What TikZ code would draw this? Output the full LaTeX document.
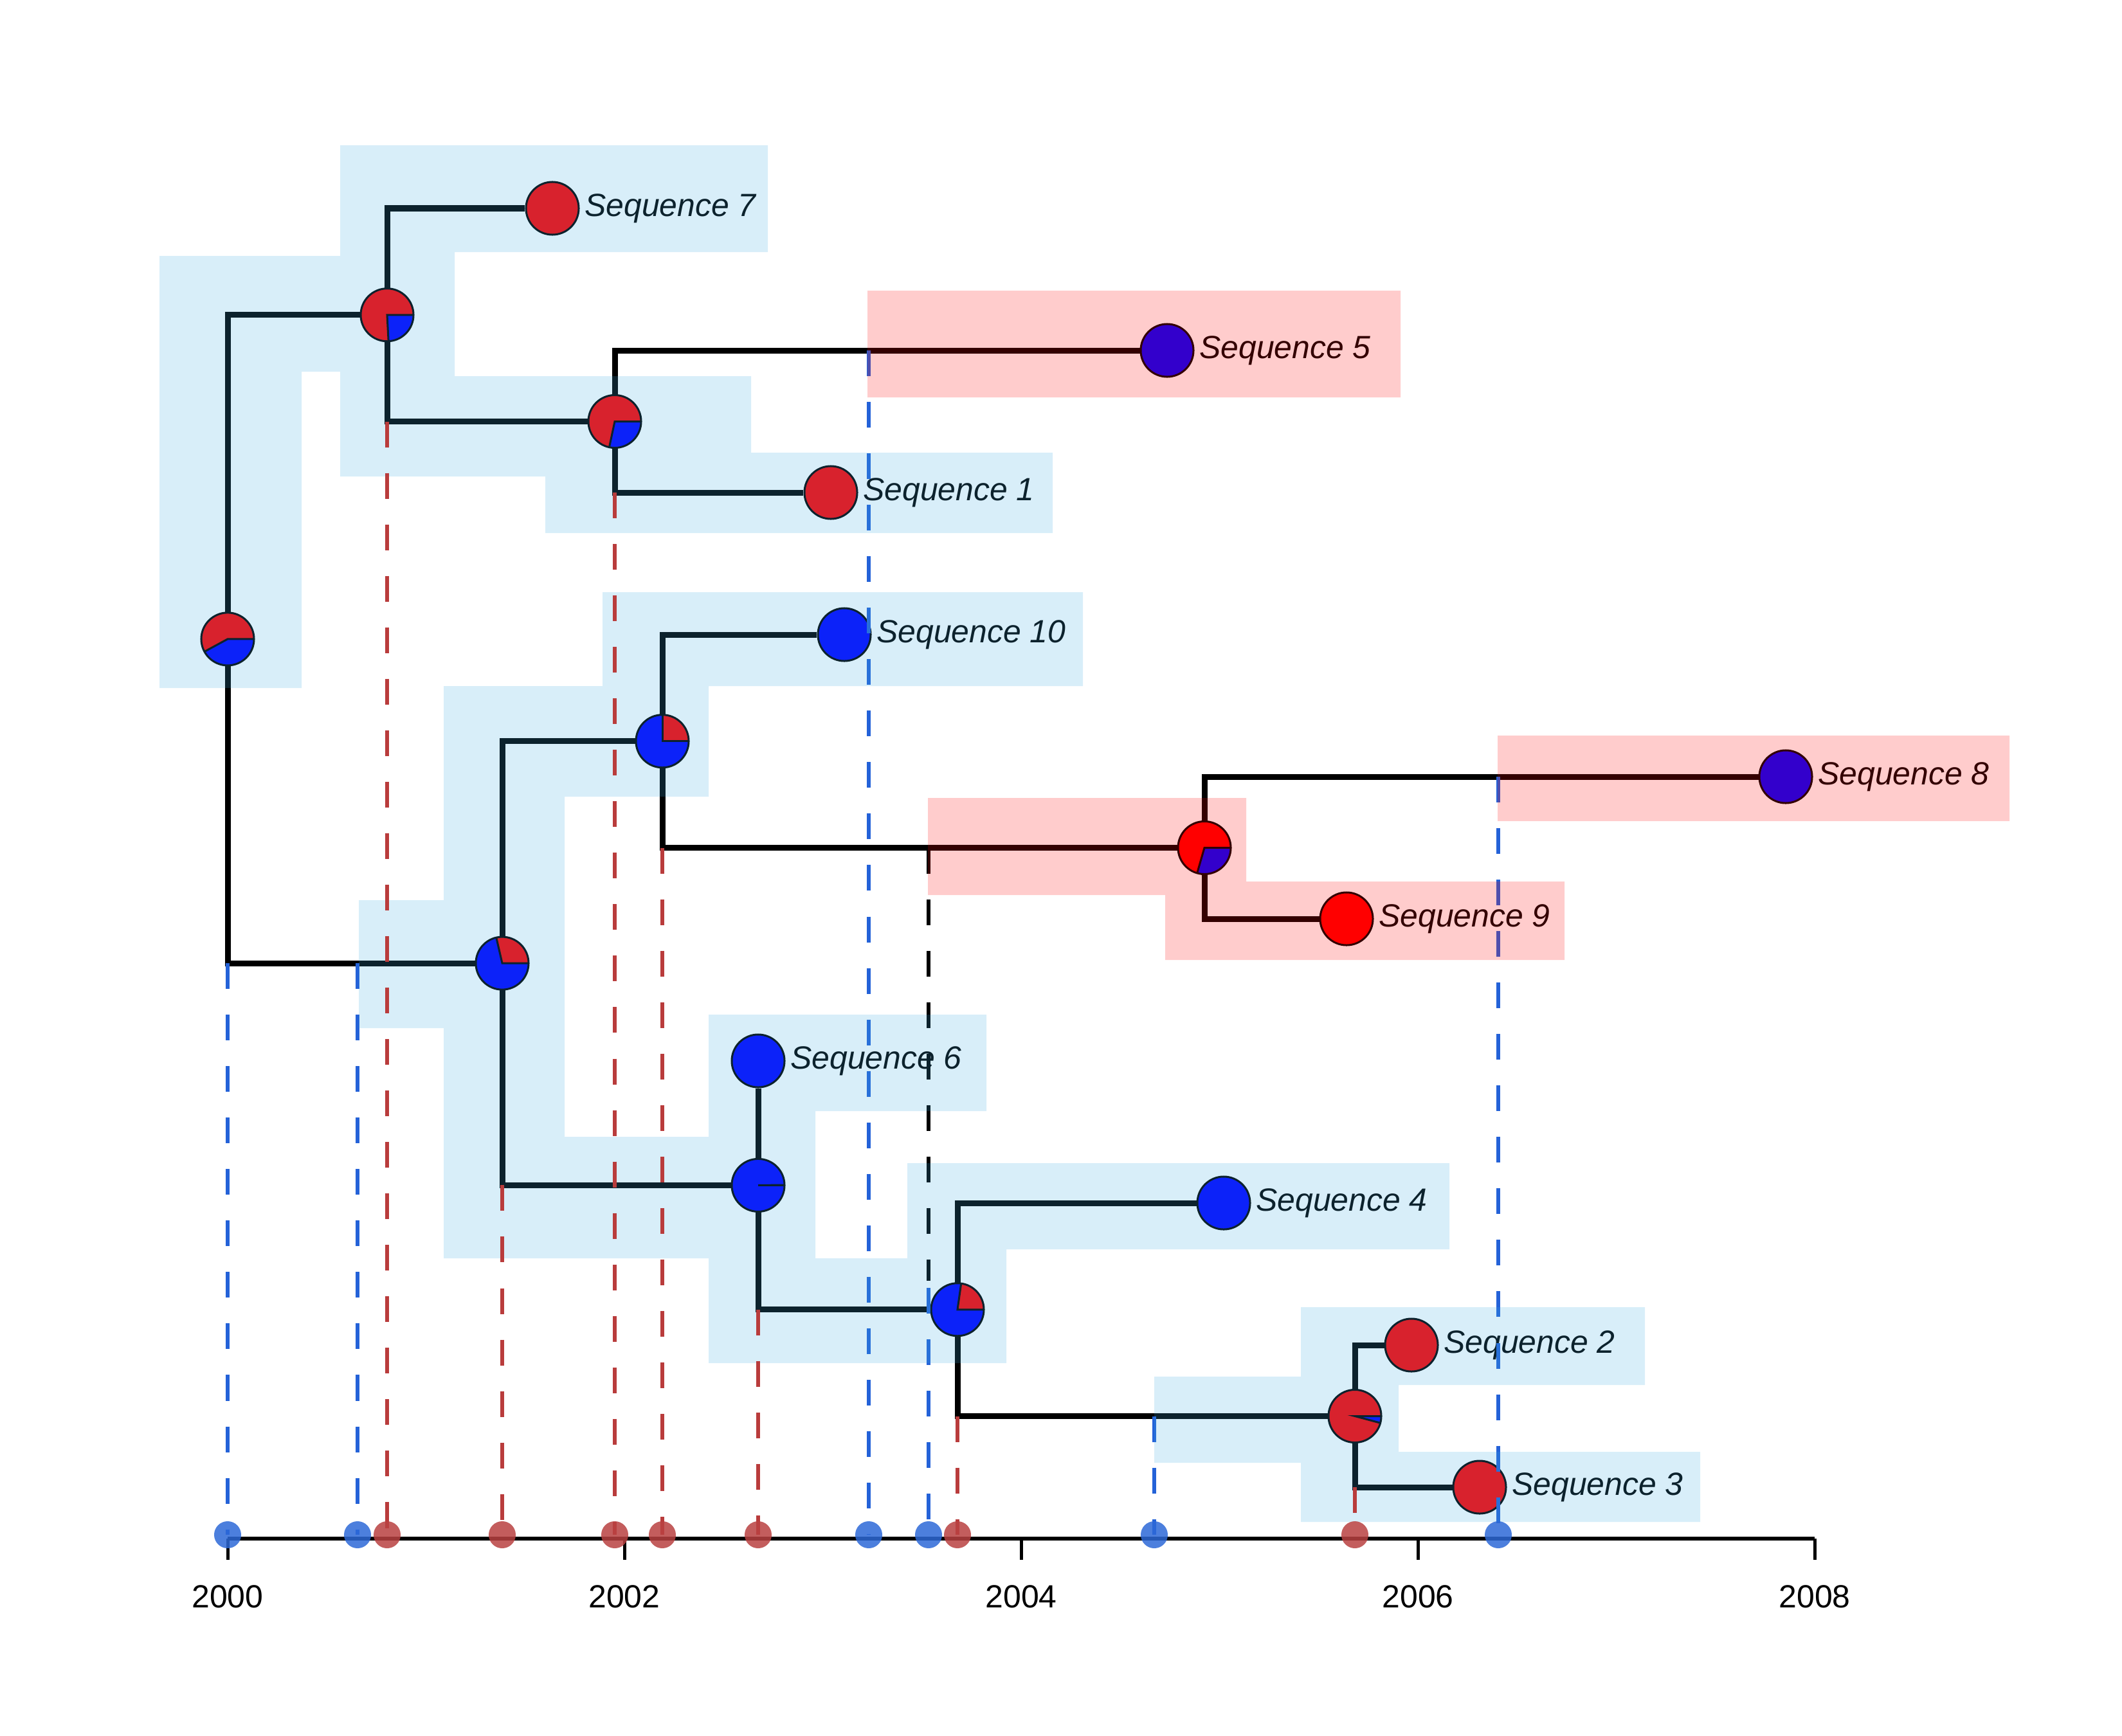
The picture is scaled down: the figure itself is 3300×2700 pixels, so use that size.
\documentclass[tikz,border=0pt]{standalone}
\usepackage{fontspec}
\setmainfont{Liberation Sans}
\usetikzlibrary{positioning}

\definecolor{cRed}{RGB}{255,0,0}
\definecolor{cBlue}{RGB}{0,0,255}
\definecolor{cShade}{RGB}{60,170,225}
\definecolor{cDashRed}{RGB}{185,60,60}
\definecolor{cDashBlue}{RGB}{36,98,216}
\definecolor{cDotRed}{RGB}{185,65,65}
\definecolor{cDotBlue}{RGB}{45,105,215}

\tikzstyle{tip} = [circle, minimum size=0.82cm, inner sep=0pt, draw=black, line width=0.03cm]
\tikzstyle{pienode} = [circle, minimum size=0.82cm, inner sep=0pt, fill=cBlue]
\tikzstyle{pieline} = [draw=black, line width=0.03cm]
\tikzstyle{branch} = [draw=black, line width=0.09cm]
\tikzstyle{seqlabel} = [font=\fontsize{14.2}{17}\selectfont\itshape, inner sep=0pt]
\tikzstyle{yearlabel} = [font=\fontsize{14.2}{17}\selectfont, inner sep=0pt]
\tikzstyle{reddash} = [draw=cDashRed, line width=0.065cm, dash pattern=on 0.4cm off 0.4cm]
\tikzstyle{bluedash} = [draw=cDashBlue, line width=0.065cm, dash pattern=on 0.4cm off 0.4cm]
\tikzstyle{blackdash} = [draw=black, line width=0.065cm, dash pattern=on 0.4cm off 0.4cm]
\tikzstyle{reddot} = [circle, minimum size=0.42cm, inner sep=0pt, fill=cDotRed, fill opacity=0.85]
\tikzstyle{bluedot} = [circle, minimum size=0.42cm, inner sep=0pt, fill=cDotBlue, fill opacity=0.85]
\tikzstyle{blueshade} = [fill=cShade, fill opacity=0.2]
\tikzstyle{redshade} = [fill=cRed, fill opacity=0.2]
\tikzstyle{axisline} = [draw=black, line width=0.055cm]
\tikzstyle{axistick} = [draw=black, line width=0.05cm]

\newcommand{\statepie}[4]{%
        \node (#1) [pienode] at (#2,#3) {};
        \fill [cRed] (#1.center) -- ([shift={(0:0.41cm)}]#1.center) arc [start angle=0, end angle=#4, radius=0.41cm] -- cycle;
        \draw [pieline] ([shift={(0:0.41cm)}]#1.center) -- (#1.center) -- ([shift={(#4:0.41cm)}]#1.center);
        \draw [pieline] (#1.center) circle [radius=0.41cm];
}

\begin{document}
\begin{tikzpicture}[x=0.01cm, y=-0.01cm]
        \useasboundingbox (0,0) rectangle (3300,2700);

        \statepie{root}{354}{993.9}{208.5}
        \statepie{A}{602}{489.75}{273}
        \statepie{B}{956}{655.5}{258}
        \statepie{C}{781}{1498.1}{103}
        \statepie{D}{1030}{1152.75}{90}
        \statepie{E}{1873}{1318.5}{254}
        \statepie{F}{1179}{1843.4}{0.5}
        \statepie{G}{1489}{2036.75}{82}
        \statepie{H}{2107}{2202.5}{345}

        \node (seq7) [tip, fill=cRed] at (859,324) {};
        \node (seq5) [tip, fill=cBlue] at (1815,545) {};
        \node (seq1) [tip, fill=cRed] at (1292,766) {};
        \node (seq10) [tip, fill=cBlue] at (1313,987) {};
        \node (seq8) [tip, fill=cBlue] at (2777,1208) {};
        \node (seq9) [tip, fill=cRed] at (2094,1429) {};
        \node (seq6) [tip, fill=cBlue] at (1179,1650) {};
        \node (seq4) [tip, fill=cBlue] at (1903,1871) {};
        \node (seq2) [tip, fill=cRed] at (2195,2092) {};
        \node (seq3) [tip, fill=cRed] at (2301,2313) {};

        \node (lab7) [seqlabel, right=0.07cm of seq7] {Sequence 7};
        \node (lab5) [seqlabel, right=0.07cm of seq5] {Sequence 5};
        \node (lab1) [seqlabel, right=0.07cm of seq1] {Sequence 1};
        \node (lab10) [seqlabel, right=0.07cm of seq10] {Sequence 10};
        \node (lab8) [seqlabel, right=0.07cm of seq8] {Sequence 8};
        \node (lab9) [seqlabel, right=0.07cm of seq9] {Sequence 9};
        \node (lab6) [seqlabel, right=0.07cm of seq6] {Sequence 6};
        \node (lab4) [seqlabel, right=0.07cm of seq4] {Sequence 4};
        \node (lab2) [seqlabel, right=0.07cm of seq2] {Sequence 2};
        \node (lab3) [seqlabel, right=0.07cm of seq3] {Sequence 3};

        \draw [branch] (root) |- (A);
        \draw [branch] (root) |- (C);
        \draw [branch] (A) |- (seq7);
        \draw [branch] (A) |- (B);
        \draw [branch] (B) |- (seq5);
        \draw [branch] (B) |- (seq1);
        \draw [branch] (C) |- (D);
        \draw [branch] (C) |- (F);
        \draw [branch] (D) |- (seq10);
        \draw [branch] (D) |- (E);
        \draw [branch] (E) |- (seq8);
        \draw [branch] (E) |- (seq9);
        \draw [branch] (F) -- (seq6);
        \draw [branch] (F) |- (G);
        \draw [branch] (G) |- (seq4);
        \draw [branch] (G) |- (H);
        \draw [branch] (H) |- (seq2);
        \draw [branch] (H) |- (seq3);

        \coordinate (evrc) at (556,1498.1);
        \coordinate (evbs) at (1351,545);
        \coordinate (evde) at (1444,1318.5);
        \coordinate (evdemid) at (1444,1992);
        \coordinate (evdelow) at (1444,2003);
        \coordinate (evgh) at (1795,2202.5);
        \coordinate (eves) at (2330,1208);

        \coordinate (a0) at (354,2387);
        \coordinate (a1) at (556,2387);
        \coordinate (a2) at (602,2387);
        \coordinate (a3) at (781,2387);
        \coordinate (a4) at (956,2387);
        \coordinate (a5) at (1030,2387);
        \coordinate (a6) at (1179,2387);
        \coordinate (a7) at (1351,2387);
        \coordinate (a8) at (1444,2387);
        \coordinate (a9) at (1489,2387);
        \coordinate (a10) at (1795,2387);
        \coordinate (a11) at (2107,2387);
        \coordinate (a12) at (2330,2387);

        \draw [bluedash] (root |- C) -- (a0);
        \draw [bluedash] (evrc) -- (a1);
        \draw [bluedash] (evbs) -- (a7);
        \draw [blackdash] (evde) -- (evdemid);
        \draw [bluedash] (evdelow) -- (a8);
        \draw [bluedash] (evgh) -- (a10);
        \draw [bluedash] (eves) -- (a12);

        \fill [blueshade] (529,226) rectangle (1194,392) (529,226) rectangle (707,741)
                (248,398) rectangle (707,578) (248,398) rectangle (469,1070)
                (529,585) rectangle (1168,741) (848,585) rectangle (1168,829)
                (848,704) rectangle (1637,829) (937,921) rectangle (1684,1067)
                (937,921) rectangle (1102,1239) (690,1067) rectangle (1102,1239)
                (690,1067) rectangle (878,1957) (558,1400) rectangle (878,1599)
                (690,1768) rectangle (1102,1957) (1102,1578) rectangle (1534,1728)
                (1102,1578) rectangle (1268,2120) (1102,1957) rectangle (1565,2120)
                (1411,1809) rectangle (1565,2120) (1411,1809) rectangle (2254,1943)
                (1795,2141) rectangle (2175,2275) (2023,2033) rectangle (2175,2367)
                (2023,2033) rectangle (2558,2154) (2023,2258) rectangle (2644,2367);
        \fill [redshade] (1349,452) rectangle (2178,618)
                (1443,1241) rectangle (1938,1392) (1812,1241) rectangle (1938,1493)
                (1812,1371) rectangle (2433,1493) (2329,1144) rectangle (3125,1277);

        \draw [reddash] (A |- B) -- (a2);
        \draw [reddash] (C |- F) -- (a3);
        \draw [reddash] (B |- seq1) -- (a4);
        \draw [reddash] (D |- E) -- (a5);
        \draw [reddash] (F |- G) -- (a6);
        \draw [reddash] (G |- H) -- (a9);
        \draw [reddash] (H |- seq3) -- (a11);

        \coordinate (axl) at (354,2393);
        \coordinate (axr) at (2822,2393);
        \draw [axisline] (axl) -- (axr);
        \draw [axistick] (354,2393) -- (354,2426);
        \draw [axistick] (971,2393) -- (971,2426);
        \draw [axistick] (1588,2393) -- (1588,2426);
        \draw [axistick] (2205,2393) -- (2205,2426);
        \draw [axistick] (2822,2393) -- (2822,2426);
        \node (y2000) [yearlabel] at (354,2483) {2000};
        \node (y2002) [yearlabel] at (971,2483) {2002};
        \node (y2004) [yearlabel] at (1588,2483) {2004};
        \node (y2006) [yearlabel] at (2205,2483) {2006};
        \node (y2008) [yearlabel] at (2822,2483) {2008};

        \node (d0) [bluedot] at (a0) {};
        \node (d1) [bluedot] at (a1) {};
        \node (d2) [reddot] at (a2) {};
        \node (d3) [reddot] at (a3) {};
        \node (d4) [reddot] at (a4) {};
        \node (d5) [reddot] at (a5) {};
        \node (d6) [reddot] at (a6) {};
        \node (d7) [bluedot] at (a7) {};
        \node (d8) [bluedot] at (a8) {};
        \node (d9) [reddot] at (a9) {};
        \node (d10) [bluedot] at (a10) {};
        \node (d11) [reddot] at (a11) {};
        \node (d12) [bluedot] at (a12) {};
    \end{tikzpicture}
\end{document}
